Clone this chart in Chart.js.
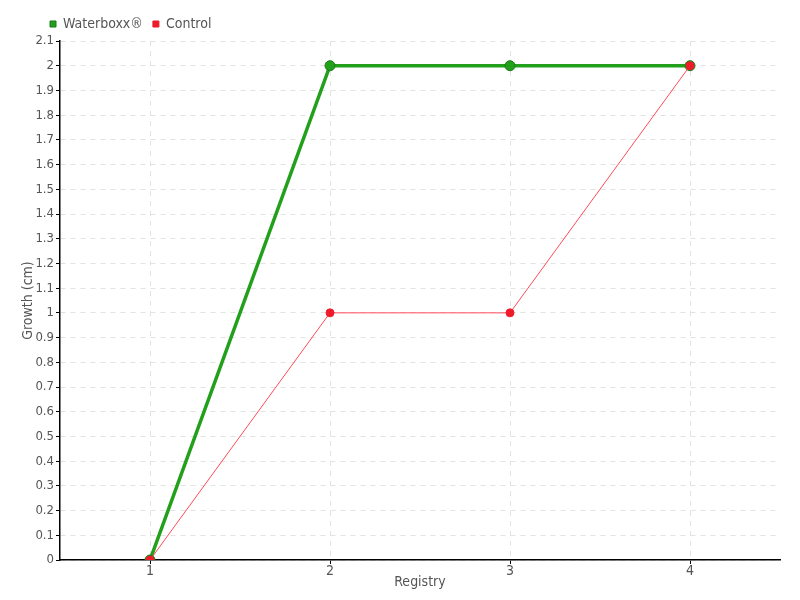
<!DOCTYPE html>
<html>
<head>
<meta charset="utf-8">
<script src="https://cdn.jsdelivr.net/npm/chart.js@4.4.0/dist/chart.umd.min.js"></script>
<style>
  html, body { margin: 0; padding: 0; background: #fff; }
  #wrap { width: 800px; height: 600px; }
</style>
</head>
<body>
<div id="wrap"><canvas id="myChart" width="800" height="600"></canvas></div>
<script>
// registry rounds on the x axis
const registries = ["1", "2", "3", "4"];
// growth in cm
const waterboxx = [0, 2, 2, 2];
const control = [0, 1, 1, 2];

Chart.defaults.font.family = "'Liberation Sans Narrow', 'DejaVu Sans Condensed', sans-serif";
Chart.defaults.font.size = 14;
Chart.defaults.color = "#555";

const green = "#22a01c";
const red = "#ee1c2a";

// push the legend right so it starts above the plot like the original
const legendShift = {
  id: "legendShift",
  afterLayout(chart) {
    if (chart.legend) chart.legend.left += 22;
  },
};

const canvasCtx = document.getElementById("myChart").getContext("2d");

const config = {
  type: "line",
  data: {
    labels: registries,
    datasets: [
      {
        label: "Control",
        data: control,
        borderColor: "#ff4a5a",
        backgroundColor: red,
        borderWidth: 1,
        pointRadius: 4,
        pointBorderWidth: 1,
        pointBorderColor: red,
        pointBackgroundColor: red,
        order: 1,
      },
      {
        label: "Waterboxx\u00ae",
        data: waterboxx,
        borderColor: green,
        backgroundColor: green,
        borderWidth: 3.5,
        pointRadius: 5,
        pointBorderWidth: 1,
        pointBorderColor: "#1a7a14",
        pointBackgroundColor: green,
        order: 2,
      },
    ],
  },
  options: {
    responsive: false,
    animation: false,
    layout: { padding: { left: 18, right: 20, top: 7, bottom: 0 } },
    plugins: {
      legend: {
        align: "start",
        reverse: true,
        labels: {
          usePointStyle: true,
          pointStyle: "rect",
          boxWidth: 6,
          boxHeight: 6,
          padding: 10,
          color: "#555",
        },
      },
      tooltip: { enabled: false },
    },
    scales: {
      x: {
        offset: true,
        title: { display: true, text: "Registry", padding: { top: 0, bottom: 9 } },
        grid: { color: "#e2e2e2", tickColor: "#000", tickLength: 4, offset: false },
        border: { color: "#000", width: 1.5, dash: [5, 5] },
        ticks: { padding: -1 },
        afterFit: (scale) => { scale.height = 40; },
      },
      y: {
        min: 0,
        max: 2.1,
        title: { display: true, text: "Growth (cm)", padding: { top: 2, bottom: 2 } },
        grid: { color: "#e2e2e2", tickColor: "#000", tickLength: 4 },
        border: { color: "#000", width: 1.5, dash: [5, 5] },
        ticks: {
          stepSize: 0.1,
          padding: 2,
          font: { size: 13 },
          callback: (v) => String(Math.round(v * 10) / 10),
        },
        afterFit: (scale) => { scale.width = 42; },
      },
    },
  },
  plugins: [legendShift],
};

let myChart = new Chart(canvasCtx, config);
</script>
</body>
</html>
